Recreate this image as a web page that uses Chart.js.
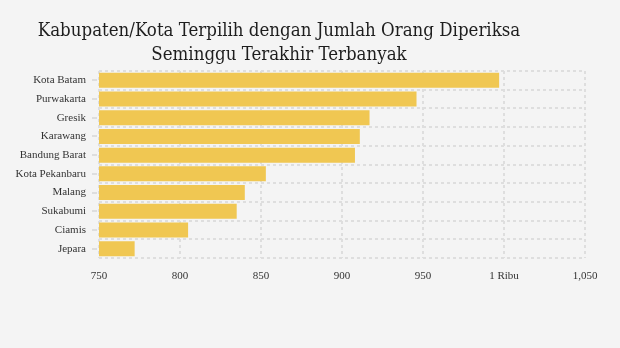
<!DOCTYPE html>
<html>
<head>
<meta charset="utf-8">
<script src="https://cdn.jsdelivr.net/npm/chart.js@4"></script>
<style>
  html, body { margin: 0; padding: 0; background: #f4f4f4; }
  #wrap { position: relative; width: 620px; height: 348px; }
  #title {
    position: absolute; left: 0; top: 18px; width: 558px;
    text-align: center; font-family: "DejaVu Serif Condensed", "DejaVu Serif", serif;
    font-size: 18.5px; line-height: 24px; color: #1e1e1e;
  }
</style>
</head>
<body>
<div id="wrap">
  <div id="title">Kabupaten/Kota Terpilih dengan Jumlah Orang Diperiksa<br>Seminggu Terakhir Terbanyak</div>
  <canvas id="myChart" width="620" height="348"></canvas>
</div>
<script>
const regions = ["Kota Batam", "Purwakarta", "Gresik", "Karawang", "Bandung Barat",
  "Kota Pekanbaru", "Malang", "Sukabumi", "Ciamis", "Jepara"];
const examined = [997, 946, 917, 911, 908, 853, 840, 835, 805, 772];
const xTickValues = [750, 800, 850, 900, 950, 1000, 1050];
const xTickLabels = ["750", "800", "850", "900", "950", "1 Ribu", "1,050"];

const gridStyle = {
  color: "#dedede",
  lineWidth: 2,
  drawTicks: false,
};

// short marks left of the axis, at the middle of each category
const categoryTicks = {
  id: "categoryTicks",
  afterDraw: (chart) => {
    const y = chart.scales.y;
    const c = chart.ctx;
    c.save();
    c.strokeStyle = "#dedede";
    c.lineWidth = 2;
    y.ticks.forEach((t, i) => {
      const py = Math.round(y.getPixelForTick(i));
      c.beginPath();
      c.moveTo(y.right - 7, py);
      c.lineTo(y.right - 2, py);
      c.stroke();
    });
    c.restore();
  },
};

const ctx = document.getElementById("myChart").getContext("2d");
const myChart = new Chart(ctx, {
  type: "bar",
  data: {
    labels: regions,
    datasets: [
      {
        label: "Jumlah Orang Diperiksa",
        data: examined,
        backgroundColor: "#f0c752",
        barPercentage: 0.8,
        categoryPercentage: 1,
      },
    ],
  },
  options: {
    indexAxis: "y",
    responsive: false,
    animation: false,
    layout: { padding: { top: 71, right: 35, bottom: 60, left: 0 } },
    plugins: { legend: { display: false }, tooltip: { enabled: false } },
    scales: {
      x: {
        min: 750,
        max: 1050,
        afterBuildTicks: (scale) => {
          scale.ticks = xTickValues.map((v) => ({ value: v }));
        },
        afterFit: (scale) => { scale.height = 30; },
        border: { display: false, dash: [3, 3] },
        grid: gridStyle,
        ticks: {
          padding: 12,
          color: "#333",
          font: { family: "Liberation Serif", size: 11 },
          callback: (value) => xTickLabels[xTickValues.indexOf(value)],
        },
      },
      y: {
        afterFit: (scale) => { scale.width = 99; },
        border: { display: false, dash: [3, 3] },
        grid: gridStyle,
        ticks: {
          padding: 13,
          color: "#333",
          font: { family: "Liberation Serif", size: 11 },
        },
      },
    },
  },
  plugins: [categoryTicks],
});
</script>
</body>
</html>
